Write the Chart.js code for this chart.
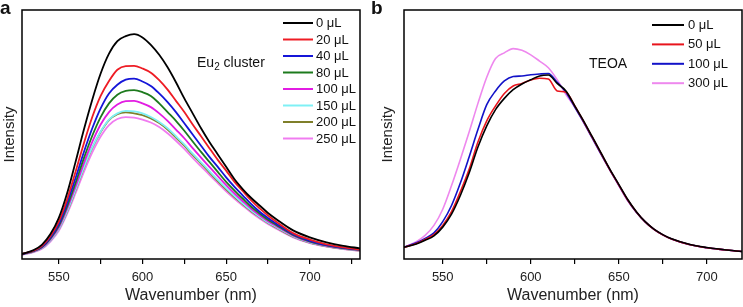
<!DOCTYPE html>
<html><head><meta charset="utf-8">
<script src="https://cdn.jsdelivr.net/npm/chart.js@4.4.1/dist/chart.umd.min.js"></script>
<style>
html,body{margin:0;padding:0;background:#fff;}
#wrap{position:relative;width:743px;height:307px;overflow:hidden;font-family:"Liberation Sans",Arial,sans-serif;}
canvas{position:absolute;top:0;}
.lbl{position:absolute;color:#111;white-space:nowrap;font-family:"Liberation Sans",Arial,sans-serif;}
</style></head><body>
<div id="wrap">
<canvas id="ca" width="372" height="307" style="left:0;width:372px;height:307px"></canvas>
<canvas id="cb" width="371" height="307" style="left:372px;width:371px;height:307px"></canvas>
<div class="lbl" style="left:0px;top:-2px;font-weight:bold;font-size:19px;line-height:19px">a</div>
<div class="lbl" style="left:371px;top:-2px;font-weight:bold;font-size:19px;line-height:19px">b</div>
<div class="lbl" style="left:197px;top:55px;font-size:14px;line-height:14px">Eu<span style="font-size:10px;position:relative;top:3px">2</span> cluster</div>
<div class="lbl" style="left:589px;top:56px;font-size:14px;line-height:14px">TEOA</div>
</div>
<script>
// ---------- Panel a data ----------
const wavelengthsA = [528,535,540,545,550,555,560,565,570,575,580,585,590,595,600,605,610,615,620,625,630,635,640,645,650,655,660,665,670,675,680,690,700,710,720,730];
const a0   = [2,3.6,5.8,10,16.5,26.5,39,52,64,74.5,82.5,87.5,89.5,90.3,89,86,82,77,71,64.5,58.5,52.5,47,42,37,32,28,24.5,21.5,18.5,16,11.5,8.7,6.7,5.3,4.3];
const a20  = [2,3.4,5.3,9.2,15,24,35,46.5,57,65.5,71.5,76,77.5,77.6,76.5,74.8,71.8,68,63.5,59,54,49.3,44.5,39.8,35.5,31,27.2,23.5,20.3,17.5,15,10.4,7.8,5.9,4.7,3.8];
const a40  = [2,3.3,5,8.7,14,22.5,32.5,43,52.5,60.5,66.5,70,72,72.4,71.3,69.5,66.5,63,59,54.5,50,45.5,41,37,32.8,29,25.5,22,19,16.5,14.2,10,7.3,5.6,4.5,3.7];
const a80  = [2,3.2,4.8,8.3,13.3,21.2,30.5,40.5,49.5,57,62.5,66,67.5,67.8,67,65.5,62.5,59,55.5,51.5,47.2,43,39,35,31,27.5,24.2,21,18.3,15.8,13.7,9.7,7.1,5.5,4.4,3.6];
const a100 = [1.9,3.1,4.6,7.9,12.6,20.2,29,38.5,47,54,59,62,63.4,63.5,62.5,61,58.5,55.5,52,48.5,44.5,40.7,37,33.3,29.7,26.3,23.2,20.2,17.6,15.2,13.2,9.4,6.9,5.3,4.3,3.5];
const a150 = [1.8,3,4.4,7.5,12,19.2,27.8,36.8,44.8,51.2,56,58.5,59.5,59.3,58.5,57,55,52.5,49.3,46,42.3,38.8,35.3,31.8,28.5,25.3,22.3,19.5,17,14.7,12.8,9.1,6.7,5.2,4.2,3.4];
const a200 = [1.8,3,4.4,7.5,12,19,27.6,36.6,44.6,51,55.8,58.2,58.9,58.5,57.8,56.5,54.6,52,48.8,45.5,41.8,38.3,34.8,31.3,28,24.9,22,19.2,16.8,14.5,12.6,9,6.6,5.1,4.1,3.4];
const a250 = [1.7,2.8,4.1,7,11.3,18.2,26.4,35,42.8,49.2,53.8,56.2,57,56.8,56,54.8,53,50.5,47.5,44.2,40.6,37.2,33.8,30.5,27.2,24.2,21.4,18.7,16.3,14.1,12.2,8.7,6.4,5,4,3.3];
const labelsA = ['0 \u03bcL','20 \u03bcL','40 \u03bcL','80 \u03bcL','100 \u03bcL','150 \u03bcL','200 \u03bcL','250 \u03bcL'];
const colorsA = ['#000000','#ee1c24','#1515d8','#1d7a1d','#e21ce2','#7ff0f5','#7f7f2a','#f07cf0'];

// ---------- Panel b data ----------
const wavelengthsB = [528,535,540,545,550,555,560,565,570,575,580,585,590,595,600,605,610,615,620,625,630,635,640,645,650,655,660,665,670,675,680,690,700,710,720];
const b0   = [4.7,6,7.5,9.3,12.8,18,25.5,34.5,45,53.5,60,64.5,68,70.3,72,73.5,73.9,70.5,67.5,61.5,55.5,49,42.5,36,30,24,19,15,12,9.8,8.1,5.9,4.6,3.7,3];
const b50  = [4.7,6.2,7.8,9.8,13.5,19,27,36,47,55.5,61.5,66.5,69.5,70.5,71.9,72.6,72.3,67.5,67,61.5,55.3,48.8,42.3,35.8,29.8,23.8,18.9,14.9,11.9,9.7,8,5.8,4.5,3.7,3];
const b100 = [4.7,6.5,8.3,10.5,15,21.5,30.5,41,52,62,67.5,71.5,73.3,73.5,74,74.3,74.5,71,67,61,55,48.5,42,35.7,29.7,23.7,18.8,14.9,11.9,9.7,8,5.8,4.5,3.7,3];
const b300 = [4.7,7,9.5,13.5,20,29.5,40,51,62.5,73,80.5,82.8,84.5,83.8,82,79.5,76.8,72,66,61,55,48.5,42,35.7,29.5,23.5,18.8,14.9,11.9,9.7,8,5.8,4.5,3.7,3];
const labelsB = ['0 \u03bcL','50 \u03bcL','100 \u03bcL','300 \u03bcL'];
const colorsB = ['#000000','#e8141c','#1212c8','#ee88ee'];

const xTicks = [550,575,600,625,650,675,700,725];
const xTitle = 'Wavenumber (nm)';
const yTitle = 'Intensity';

const FONT = '"Liberation Sans", Arial, sans-serif';

const framePlugin = {
  id: 'frame',
  afterDraw(chart) {
    const {ctx, chartArea: a} = chart;
    ctx.save();
    ctx.strokeStyle = '#000';
    ctx.lineWidth = 1.5;
    ctx.strokeRect(a.left, a.top, a.right - a.left, a.bottom - a.top);
    ctx.restore();
  }
};
const legendPlugin = {
  id: 'customLegend',
  afterDatasetsDraw(chart, args, opts) {
    const ctx = chart.ctx;
    ctx.save();
    ctx.font = '13px ' + FONT;
    ctx.textBaseline = 'middle';
    ctx.textAlign = 'left';
    ctx.fillStyle = '#111';
    chart.data.datasets.forEach((ds, i) => {
      const y = opts.y0 + i * opts.dy;
      ctx.strokeStyle = ds.borderColor;
      ctx.lineWidth = 2;
      ctx.beginPath();
      ctx.moveTo(opts.x0, y);
      ctx.lineTo(opts.x0 + opts.len, y);
      ctx.stroke();
      ctx.fillText(ds.label, opts.x0 + opts.len + opts.gap, y + 0.5);
    });
    ctx.restore();
  }
};

function makeDatasets(xs, series, labels, colors, width) {
  return series.map((s, k) => ({
    label: labels[k],
    data: s.map((v, i) => ({x: xs[i], y: v})),
    borderColor: colors[k],
    backgroundColor: colors[k],
    borderWidth: width,
    pointRadius: 0,
    fill: false,
    cubicInterpolationMode: 'monotone'
  }));
}

function makeChart(id, xs, series, labels, colors, cfg) {
  return new Chart(document.getElementById(id), {
    type: 'line',
    data: {datasets: makeDatasets(xs, series, labels, colors, cfg.lw)},
    options: {
      responsive: false,
      animation: false,
      events: [],
      layout: {padding: {top: 10, right: cfg.padRight, left: 0, bottom: 0}},
      plugins: {
        legend: {display: false},
        tooltip: {enabled: false},
        customLegend: cfg.legend
      },
      scales: {
        x: {
          type: 'linear',
          min: cfg.xmin, max: cfg.xmax,
          afterBuildTicks: (scale) => { scale.ticks = xTicks.filter(v => v >= cfg.xmin && v <= cfg.xmax).map(v => ({value: v})); },
          afterFit: (scale) => { scale.height = 48; },
          border: {display: false},
          grid: {display: true, drawOnChartArea: false, drawTicks: true, tickLength: 5, color: '#000', lineWidth: 1.2},
          ticks: {
            autoSkip: false, maxRotation: 0, padding: 6, color: '#222',
            font: {family: FONT, size: 13},
            callback: (v) => (v % 50 === 0 ? String(v) : '')
          },
          title: {display: true, text: xTitle, color: '#222', font: {family: FONT, size: 16}, padding: {top: 0, bottom: 2}}
        },
        y: {
          min: 0, max: 100,
          afterFit: (scale) => { scale.width = cfg.yWidth; },
          border: {display: false},
          grid: {display: false},
          ticks: {display: false},
          title: {display: true, text: yTitle, color: '#222', font: {family: FONT, size: 15}, padding: {top: cfg.yTitlePad, bottom: 0}}
        }
      }
    },
    plugins: [framePlugin, legendPlugin]
  });
}

makeChart('ca', wavelengthsA, [a0,a20,a40,a80,a100,a150,a200,a250], labelsA, colorsA, {
  xmin: 528, xmax: 730, padRight: 12, yWidth: 22, yTitlePad: 0.5, lw: 1.8,
  legend: {x0: 283, len: 30, gap: 3, y0: 23, dy: 16.5}
});
makeChart('cb', wavelengthsB, [b0,b50,b100,b300], labelsB, colorsB, {
  xmin: 528, xmax: 720, padRight: 1, yWidth: 32, yTitlePad: 7, lw: 1.6,
  legend: {x0: 280, len: 32, gap: 4, y0: 25, dy: 19.4}
});
</script>
</body></html>
